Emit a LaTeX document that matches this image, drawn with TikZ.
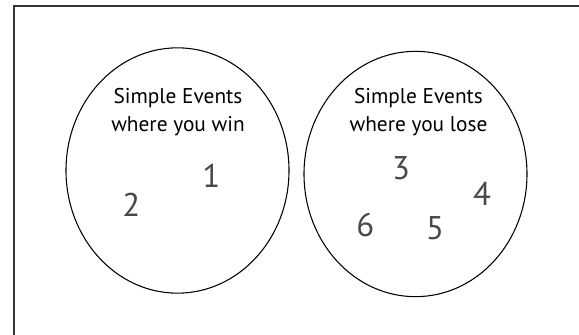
\documentclass[tikz,border=0pt]{standalone}
\usepackage{fontspec}
\setmainfont{PT Sans}
\usepackage{tikz}
\usetikzlibrary{shapes.geometric,positioning}
\definecolor{digitgray}{RGB}{72,72,72}
\definecolor{framegray}{RGB}{50,50,50}

\begin{document}
\begin{tikzpicture}[
        x=0.75pt, y=-0.75pt,
        setbox/.style={draw, ellipse, line width=0.8pt, minimum width=167.25pt, minimum height=184pt, inner sep=0pt},
        caption/.style={align=center, inner sep=0pt, font=\fontsize{16}{21.2}\selectfont},
        outcome/.style={inner sep=0pt, text=digitgray, font=\fontsize{24.6}{28}\selectfont}
    ]
    \useasboundingbox (0,0) rectangle (579,335);
    \draw[framegray, line width=1.5pt] (14,340) -- (14,6) -- (585,6);

    \node[setbox] (win) at (177.5,170.5) {};
    \node[setbox] (lose) at (415.5,174) {};

    \node[caption] (wincap) at (178,112) {Simple Events\\where you win};
    \node[caption] (losecap) at (418.5,112) {Simple Events\\where you lose};

    \node[outcome] (one) at (211.3,176) {1};
    \node[outcome] (two) at (131.3,205) {2};
    \node[outcome] (three) at (401,168.7) {3};
    \node[outcome] (four) at (482,193.8) {4};
    \node[outcome] (five) at (435,228) {5};
    \node[outcome] (six) at (365.3,225) {6};
\end{tikzpicture}
\end{document}
